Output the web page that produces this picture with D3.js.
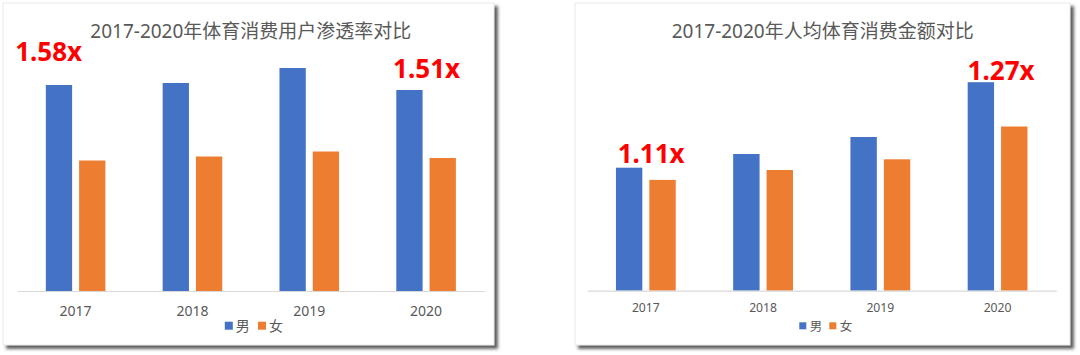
<!DOCTYPE html>
<html>
<head>
<meta charset="utf-8">
<script src="https://cdn.jsdelivr.net/npm/d3@7"></script>
<style>
  html, body { margin: 0; padding: 0; background: #ffffff; }
  svg { display: block; }
</style>
</head>
<body>
<svg id="chart" width="1080" height="355"></svg>
<script>
// ---------- DATA ----------
const categories = ["2017", "2018", "2019", "2020"];
const seriesNames = ["男", "女"];

// Left chart: sports consumption user penetration (relative units)
const penetrationMale   = [41.2, 41.6, 44.6, 40.2];
const penetrationFemale = [26.1, 26.9, 27.9, 26.6];
const penetrationTitle  = "2017-2020年体育消费用户渗透率对比";
const penetrationNotes  = [{ year: "2017", text: "1.58x" }, { year: "2020", text: "1.51x" }];

// Right chart: per-capita sports spending (relative units)
const spendingMale   = [1230, 1367, 1537, 2085];
const spendingFemale = [1108, 1207, 1314, 1642];
const spendingTitle  = "2017-2020年人均体育消费金额对比";
const spendingNotes  = [{ year: "2017", text: "1.11x" }, { year: "2020", text: "1.27x" }];

// ---------- STYLE / LAYOUT ----------
const colors = ["#4472C4", "#ED7D31"];
const textColor = "#595959";
const latinCjk = "'Noto Sans', 'Noto Sans CJK SC', sans-serif";

const panels = [
  {
    card: { x: 3, y: 3, w: 491, h: 342 },
    plot: { x0: 17.2, x1: 484.5, y0: 291, yTop: 41 },
    yMax: 50,
    male: penetrationMale, female: penetrationFemale,
    title: penetrationTitle, notes: penetrationNotes,
    noteOffsets: [{ dx: -27, dy: 23.6 }, { dx: 0.5, dy: 12 }],
    labelSize: 14, legendSize: 14, legendSq: 8,
    legend: { x: 224.8, sqY: 321.7, textY: 331, gap: 3, itemGap: 33.2 }
  },
  {
    card: { x: 575, y: 3, w: 495, h: 342 },
    plot: { x0: 587.2, x1: 1056.2, y0: 290.7, yTop: 40.7 },
    yMax: 2500,
    male: spendingMale, female: spendingFemale,
    title: spendingTitle, notes: spendingNotes,
    noteOffsets: [{ dx: 5.3, dy: 5 }, { dx: 3.5, dy: 2.7 }],
    labelSize: 12.2, legendSize: 12.5, legendSq: 7,
    legend: { x: 799.3, sqY: 322.3, textY: 331, gap: 3.4, itemGap: 30 }
  }
];

const svg = d3.select("#chart");
const defs = svg.append("defs");
const f = defs.append("filter").attr("id", "shadow")
  .attr("x", "-5%").attr("y", "-5%").attr("width", "115%").attr("height", "115%");
f.append("feDropShadow")
  .attr("dx", 3.5).attr("dy", 3.5).attr("stdDeviation", 1.4)
  .attr("flood-color", "#404040").attr("flood-opacity", 0.85);

panels.forEach(p => {
  const g = svg.append("g");

  // card
  g.append("rect")
    .attr("x", p.card.x).attr("y", p.card.y)
    .attr("width", p.card.w).attr("height", p.card.h)
    .attr("fill", "#ffffff")
    .attr("stroke", "#e4e4e4").attr("stroke-width", 0.8)
    .attr("filter", "url(#shadow)");

  const x = d3.scaleBand().domain(categories).range([p.plot.x0, p.plot.x1])
    .paddingInner(0).paddingOuter(0);
  const xs = d3.scaleBand().domain(seriesNames).range([0, x.bandwidth()])
    .paddingInner(0.21).paddingOuter(0.86);
  const y = d3.scaleLinear().domain([0, p.yMax]).range([p.plot.y0, p.plot.yTop]);

  const rows = categories.map((c, i) => ({ cat: c, values: [p.male[i], p.female[i]] }));

  // title
  g.append("text")
    .attr("x", (p.plot.x0 + p.plot.x1) / 2 + (p === panels[0] ? 0 : 1))
    .attr("y", 38)
    .attr("text-anchor", "middle")
    .attr("font-family", latinCjk)
    .attr("font-size", 19)
    .attr("fill", textColor)
    .text(p.title);

  // bars
  const groups = g.selectAll("g.grp").data(rows).enter().append("g")
    .attr("class", "grp")
    .attr("transform", d => `translate(${x(d.cat)},0)`);
  groups.selectAll("rect").data(d => d.values.map((v, k) => ({ v, k })))
    .enter().append("rect")
    .attr("x", d => xs(seriesNames[d.k]))
    .attr("y", d => y(d.v))
    .attr("width", xs.bandwidth())
    .attr("height", d => y(0) - y(d.v))
    .attr("fill", d => colors[d.k]);

  // x axis
  const axis = g.append("g")
    .attr("transform", `translate(0,${p.plot.y0})`)
    .call(d3.axisBottom(x).tickSize(0).tickPadding(0));
  axis.select(".domain").attr("stroke", "#d9d9d9").attr("stroke-width", 1.2);
  axis.selectAll("text")
    .attr("font-family", latinCjk)
    .attr("font-size", p.labelSize)
    .attr("fill", textColor)
    .attr("dy", null)
    .attr("y", p === panels[0] ? 24.5 : 21.5);

  // annotations
  p.notes.forEach((n, i) => {
    const idx = categories.indexOf(n.year);
    const off = p.noteOffsets[i];
    g.append("text")
      .attr("x", x(n.year) + x.bandwidth() / 2 + off.dx)
      .attr("y", y(p.male[idx]) - off.dy)
      .attr("text-anchor", "middle")
      .attr("font-family", "'Noto Sans', sans-serif")
      .attr("font-weight", "bold")
      .attr("font-size", 26)
      .attr("fill", "#FF0000")
      .text(n.text);
  });

  // legend
  const lg = g.append("g");
  seriesNames.forEach((s, k) => {
    const lx = p.legend.x + k * p.legend.itemGap;
    lg.append("rect")
      .attr("x", lx).attr("y", p.legend.sqY)
      .attr("width", p.legendSq).attr("height", p.legendSq)
      .attr("fill", colors[k]);
    lg.append("text")
      .attr("x", lx + p.legendSq + p.legend.gap)
      .attr("y", p.legend.textY)
      .attr("font-family", "'Noto Sans CJK SC', sans-serif")
      .attr("font-size", p.legendSize)
      .attr("fill", textColor)
      .text(s);
  });
});
</script>
</body>
</html>
